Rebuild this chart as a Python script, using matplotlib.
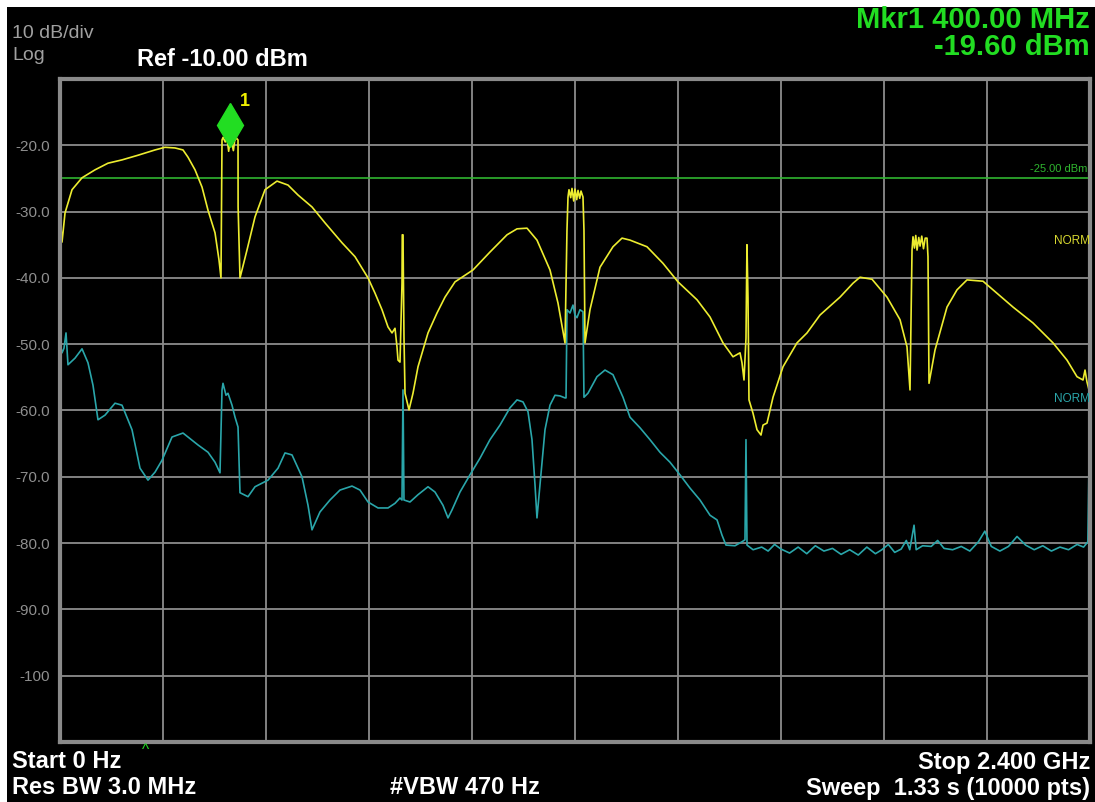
import numpy as np
import matplotlib
matplotlib.use("Agg")
import matplotlib.pyplot as plt
from matplotlib.patches import Rectangle

# trace 1 (yellow, max hold) - freq in MHz, level in dBm
yellow_mhz = [0, 0, 4.7, 11.7, 28.0, 51.3, 81.6, 111.8, 144.5, 181.7, 221.4, 244.7, 268.0,
              286.6, 298.3, 314.6, 330.9, 344.9, 361.2, 370.5, 375.1, 377.5, 380, 385, 389,
              393, 396, 400, 404, 407, 411, 414.8, 415.0, 419.4, 435.7, 454.4, 477.7, 505.6,
              531.3, 554.6, 587.2, 617.5, 657.1, 687.4, 717.7, 734.0, 750.3, 764.3, 773.6,
              780.6, 785.2, 787.6, 792.2, 796.9, 797.5, 799.2, 801.5, 803.9, 813.2, 822.5,
              834.2, 857.5, 878.4, 897.1, 920.4, 962.3, 1001.9, 1041.6, 1064.9, 1088.2,
              1111.4, 1141.7, 1160.4, 1176.7, 1181.3, 1183.7, 1186.0, 1190, 1193, 1197, 1200,
              1204, 1207, 1211, 1214, 1218.6, 1220.9, 1223.3, 1234.9, 1258.2, 1288.5, 1309.5,
              1328.1, 1367.7, 1405.0, 1440.0, 1484.3, 1514.6, 1544.9, 1568.2, 1584.5, 1589.1,
              1593.8, 1598.4, 1600.7, 1603.1, 1605.4, 1614.7, 1624.1, 1633.4, 1638.1, 1647.4,
              1661.4, 1684.7, 1717.3, 1740.6, 1770.9, 1817.5, 1847.8, 1864.1, 1892.1, 1927.0,
              1957.3, 1973.6, 1980.6, 1985.3, 1987.6, 1991, 1994, 1997, 2001, 2004, 2008, 2012,
              2016, 2020.2, 2022.5, 2024.9, 2038.8, 2066.8, 2090.1, 2113.4, 2150.7, 2174.0,
              2220.6, 2267.2, 2313.8, 2346.4, 2369.7, 2383.7, 2388.4, 2393.0, 2397.7, 2400.0]
yellow_dbm = [-15.0, -30.2, -34.6, -30.2, -26.7, -24.9, -23.7, -22.7, -22.2, -21.5, -20.7, -20.3, -20.4,
              -20.7, -21.8, -23.7, -26.3, -29.8, -33.2, -37.3, -40.0, -19.2, -18.8, -19.5, -18.9,
              -20.9, -19.4, -19.6, -20.8, -19.3, -18.9, -19.2, -29.3, -40.0, -35.8, -30.8, -26.7, -25.4,
              -26.0, -27.5, -29.3, -31.7, -34.7, -36.8, -40.0, -42.3, -44.8, -47.4, -48.3,
              -47.6, -50.4, -52.4, -52.7, -40.8, -33.5, -33.5, -48.9, -57.4, -59.9, -57.4,
              -53.4, -48.3, -45.3, -42.9, -40.6, -38.8, -36.1, -33.5, -32.6, -32.5,
              -34.3, -38.8, -43.8, -49.8, -32.8, -27.8, -26.7, -27.9, -26.5, -28.4, -26.6,
              -28.2, -26.8, -28.0, -26.9, -27.8, -32.8, -49.8, -44.8, -38.4, -35.3, -34.0,
              -34.3, -35.3, -37.8, -40.6, -43.3, -45.9, -49.8, -51.9, -51.3, -52.8,
              -55.4, -49.1, -35.0, -43.0, -58.4, -60.4, -62.9, -63.7, -62.2, -61.9,
              -58.0, -53.4, -49.8, -48.3, -45.6, -42.9, -40.8, -39.9, -40.2, -42.9,
              -46.3, -50.4, -56.9, -35.8, -33.8, -35.5, -33.6, -35.8, -33.9, -35.2, -33.7, -35.6,
              -34.0, -34.0, -36.8, -55.9, -50.9, -44.4, -41.8, -40.3, -40.5, -41.8,
              -44.4, -46.8, -49.8, -52.4, -54.9, -55.4, -53.9, -55.7, -56.9, -36.2]

# trace 2 (teal)
teal_mhz = [0, 0.5, 4.7, 9.3, 14.0, 18.6, 35.0, 51.3, 65.2, 76.9, 88.5, 104.9, 128.2, 144.5,
            167.8, 186.4, 205.0, 221.4, 237.7, 261.0, 286.6, 321.6, 344.9, 361.2, 372.8, 377.5,
            379.8, 386.8, 391.4, 400.8, 407.8, 414.8, 419.4, 438.1, 454.4, 484.7, 508.0, 524.3,
            540.6, 563.9, 577.9, 587.2, 605.8, 629.1, 652.4, 680.4, 699.0, 717.7, 741.0, 764.3,
            780.6, 792.2, 796.9, 799.2, 801.5, 815.5, 834.2, 857.5, 873.8, 892.4, 904.1, 913.4,
            932.0, 955.3, 978.6, 1001.9, 1025.2, 1048.5, 1064.9, 1078.8, 1090.5, 1099.8, 1106.8,
            1111.4, 1118.4, 1130.1, 1141.7, 1153.4, 1165.1, 1176.7, 1179.1, 1181.4, 1188.3,
            1195.3, 1199.9, 1204.6, 1211.6, 1218.6, 1220.9, 1230.2, 1251.2, 1269.9, 1288.5,
            1311.8, 1328.1, 1351.4, 1374.7, 1398.0, 1421.3, 1444.6, 1467.9, 1491.2, 1514.6,
            1530.9, 1542.5, 1551.8, 1572.8, 1589.1, 1596.1, 1598.4, 1600.8, 1615, 1635, 1650,
            1665, 1680, 1700, 1720, 1740, 1760, 1780, 1800, 1820, 1840, 1860, 1880, 1900, 1915,
            1930, 1945, 1960, 1972, 1980, 1990, 1995, 2010, 2030, 2045, 2060, 2080, 2100, 2120,
            2140, 2155, 2170, 2190, 2210, 2230, 2250, 2270, 2290, 2310, 2330, 2350, 2370, 2385,
            2395, 2400]
teal_dbm = [-33.0, -50.0, -51.3, -50.6, -48.3, -53.1, -52.1, -50.7, -52.8, -56.2, -61.4, -60.7, -58.9, -59.2,
            -62.9, -68.7, -70.5, -69.3, -67.5, -64.0, -63.4, -65.2, -66.3, -67.8, -69.4, -56.9,
            -55.9, -57.7, -57.4, -59.2, -61.0, -62.5, -72.4, -73.0, -71.5, -70.5, -68.7, -66.4,
            -66.7, -70.0, -74.3, -78.0, -75.3, -73.5, -72.0, -71.4, -72.0, -73.8, -74.7, -74.7,
            -74.0, -73.2, -73.5, -56.9, -73.5, -73.8, -72.7, -71.5, -72.3, -74.3, -76.2, -75.0,
            -72.3, -69.7, -67.2, -64.4, -62.2, -59.6, -58.4, -58.7, -60.2, -64.4, -71.2,
            -76.2, -71.2, -62.9, -59.2, -57.7, -57.8, -58.1, -58.1, -44.8, -45.3,
            -44.1, -45.6, -46.0, -44.8, -45.1, -58.0, -57.4, -54.9, -53.9, -54.6,
            -58.0, -61.0, -62.6, -64.4, -66.3, -67.8, -69.7, -71.7, -73.5, -75.8,
            -76.5, -78.8, -80.3, -80.4, -79.8, -79.5, -64.4, -80.3, -81.0, -80.6, -81.2,
            -80.2, -80.9, -81.5, -80.6, -81.6, -80.4, -81.2, -80.8, -81.7, -81.0, -81.8, -80.6, -81.6, -81.0,
            -80.2, -81.4, -80.9, -79.6, -81.0, -77.3, -81.0, -80.4, -80.5, -79.6, -80.8, -81.0, -80.5, -81.2,
            -79.8, -78.2, -80.5, -81.2, -80.5, -79.0, -80.3, -81.0, -80.4, -81.2, -80.6, -81.0, -80.2, -80.6,
            -79.8, -57.5]

y_ticks = [-100, -90, -80, -70, -60, -50, -40, -30, -20]
y_tick_labels = ["-100", "-90.0", "-80.0", "-70.0", "-60.0", "-50.0", "-40.0", "-30.0", "-20.0"]
display_line = -25.0
marker_mhz, marker_dbm = 400.0, -19.6

plt.rcParams["font.family"] = ["Liberation Sans", "DejaVu Sans"]

W, H = 1095, 802
fig = plt.figure(figsize=(W / 100, H / 100), dpi=100, facecolor="white")
# black screen with a thin white edge at top/left
fig.patches.append(Rectangle((7 / W, 0), 1, 1 - 7 / H, transform=fig.transFigure,
                             facecolor="black", edgecolor="none", zorder=-5))

def px(x, y):
    return x / W, 1 - y / H

l, r, t, b = 60, 1090, 79, 742
ax = fig.add_axes([l / W, 1 - b / H, (r - l) / W, (b - t) / H], facecolor="black")
ax.set_zorder(1)
ax.set_xlim(0, 2400)
ax.set_ylim(-110, -10)
ax.set_xticks(np.arange(0, 2401, 240))
ax.set_yticks(y_ticks)
ax.set_yticklabels(y_tick_labels)
ax.grid(True, color="#8c8c8c", lw=1.3)
ax.tick_params(length=0, labelbottom=False, colors="#8f8f8f", labelsize=11, pad=7)
for s in ax.spines.values():
    s.set_color("#8a8a8a")
    s.set_linewidth(3)

ax.axhline(display_line, color="#2fb52f", lw=1.2)
ax.plot(teal_mhz, teal_dbm, color="#2aa6aa", lw=1.2)
ax.plot(yellow_mhz, yellow_dbm, color="#eded30", lw=1.2)
ax.plot([marker_mhz - 5], [marker_dbm + 2.7], marker="d", ms=22, color="#22dd22", mec="#22dd22")
ax.text(marker_mhz + 20, marker_dbm + 5.5, "1", color="#f0f000", fontsize=13, fontweight="bold")
ax.text(2395, display_line + 0.6, "-25.00 dBm", color="#2fb52f", fontsize=8, ha="right", va="bottom")
ax.text(2400, -34.5, "NORM", color="#d8d830", fontsize=8.5, ha="right", va="center")
ax.text(2400, -58.2, "NORM", color="#2aa6aa", fontsize=8.5, ha="right", va="center")

gray = "#a0a0a0"
fig.text(*px(12, 34), "10 dB/div", color=gray, fontsize=14, va="center", ha="left")
fig.text(*px(12, 55), "Log", color=gray, fontsize=14, va="center", ha="left")
fig.text(*px(137, 60), "Ref -10.00 dBm", color="white", fontsize=17, fontweight="bold", va="center")
fig.text(*px(1090, 20), "Mkr1 400.00 MHz", color="#22dd22", fontsize=21, fontweight="bold",
         ha="right", va="center")
fig.text(*px(1090, 47), "-19.60 dBm", color="#22dd22", fontsize=21, fontweight="bold",
         ha="right", va="center")

fig.text(*px(145, 750), "^", color="#22dd22", fontsize=11, ha="center", va="center")
fig.text(*px(12, 762), "Start 0 Hz", color="white", fontsize=17, fontweight="bold", va="center")
fig.text(*px(1090, 762), "Stop 2.400 GHz", color="white", fontsize=17, fontweight="bold",
         ha="right", va="center")
fig.text(*px(12, 788), "Res BW 3.0 MHz", color="white", fontsize=17, fontweight="bold", va="center")
fig.text(*px(390, 788), "#VBW 470 Hz", color="white", fontsize=17, fontweight="bold", va="center")
fig.text(*px(1090, 788), "Sweep  1.33 s (10000 pts)", color="white", fontsize=17, fontweight="bold",
         ha="right", va="center")

fig.savefig("out.png", dpi=100, facecolor=fig.get_facecolor())
